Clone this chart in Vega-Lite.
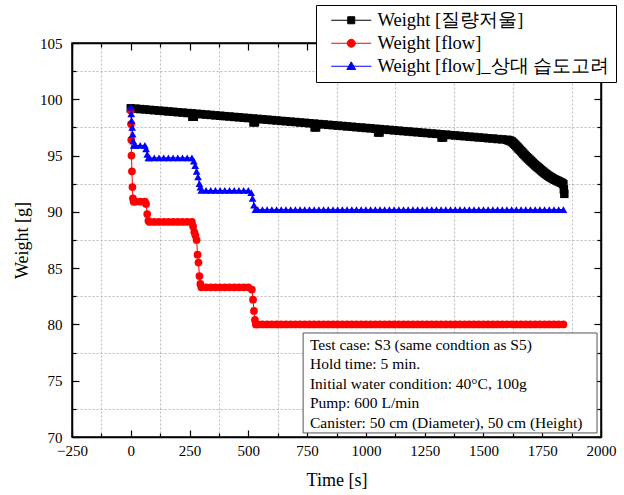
{
"$schema":"https://vega.github.io/schema/vega-lite/v6.json",
"width":529,"height":394,
"autosize":{"type":"none"},
"padding":{"left":72,"top":43,"right":23,"bottom":58},
"background":"white",
"config":{
 "font":"Liberation Serif",
 "view":{"stroke":"black","strokeWidth":1.5},
 "axis":{"domainColor":"black","domainWidth":1.5,"tickColor":"black","tickWidth":1.2,"labelFont":"Liberation Serif","labelFontSize":15,"labelColor":"black","titleFont":"Liberation Serif","titleFontSize":18,"titleFontWeight":"normal","titleColor":"black","labelOverlap":false,"labelFlush":false}
},
"datasets":{
"note":[{"txt":"Test case: S3 (same condtion as S5)\nHold time: 5 min.\nInitial water condition: 40°C, 100g\nPump: 600 L/min\nCanister: 50 cm (Diameter), 50 cm (Height)"}],
"main":[
{"s":"k","t":0,"w":99.2},{"s":"k","t":20,"w":99.17},{"s":"k","t":40,"w":99.13},{"s":"k","t":60,"w":99.1},{"s":"k","t":80,"w":99.06},{"s":"k","t":100,"w":99.03},{"s":"k","t":120,"w":98.99},{"s":"k","t":140,"w":98.96},{"s":"k","t":160,"w":98.92},{"s":"k","t":180,"w":98.89},{"s":"k","t":200,"w":98.85},{"s":"k","t":220,"w":98.82},{"s":"k","t":240,"w":98.78},{"s":"k","t":260,"w":98.75},{"s":"k","t":262,"w":98.45},{"s":"k","t":268,"w":98.45},{"s":"k","t":280,"w":98.71},{"s":"k","t":300,"w":98.68},{"s":"k","t":320,"w":98.64},{"s":"k","t":340,"w":98.61},{"s":"k","t":360,"w":98.57},{"s":"k","t":380,"w":98.54},{"s":"k","t":400,"w":98.5},{"s":"k","t":420,"w":98.47},{"s":"k","t":440,"w":98.43},{"s":"k","t":460,"w":98.4},{"s":"k","t":480,"w":98.36},{"s":"k","t":500,"w":98.33},{"s":"k","t":520,"w":98.29},{"s":"k","t":522,"w":97.95},{"s":"k","t":528,"w":97.95},{"s":"k","t":540,"w":98.26},{"s":"k","t":560,"w":98.22},{"s":"k","t":580,"w":98.19},{"s":"k","t":600,"w":98.15},{"s":"k","t":620,"w":98.12},{"s":"k","t":640,"w":98.08},{"s":"k","t":660,"w":98.05},{"s":"k","t":680,"w":98.01},{"s":"k","t":700,"w":97.98},{"s":"k","t":720,"w":97.94},{"s":"k","t":740,"w":97.91},{"s":"k","t":760,"w":97.87},{"s":"k","t":780,"w":97.84},{"s":"k","t":782,"w":97.5},{"s":"k","t":788,"w":97.5},{"s":"k","t":800,"w":97.8},{"s":"k","t":820,"w":97.77},{"s":"k","t":840,"w":97.73},{"s":"k","t":860,"w":97.7},{"s":"k","t":880,"w":97.66},{"s":"k","t":900,"w":97.63},{"s":"k","t":920,"w":97.59},{"s":"k","t":940,"w":97.56},{"s":"k","t":960,"w":97.52},{"s":"k","t":980,"w":97.49},{"s":"k","t":1000,"w":97.45},{"s":"k","t":1020,"w":97.42},{"s":"k","t":1040,"w":97.38},{"s":"k","t":1052,"w":97.05},{"s":"k","t":1058,"w":97.05},{"s":"k","t":1060,"w":97.35},{"s":"k","t":1080,"w":97.31},{"s":"k","t":1100,"w":97.28},{"s":"k","t":1120,"w":97.24},{"s":"k","t":1140,"w":97.21},{"s":"k","t":1160,"w":97.17},{"s":"k","t":1180,"w":97.14},{"s":"k","t":1200,"w":97.1},{"s":"k","t":1220,"w":97.07},{"s":"k","t":1240,"w":97.03},{"s":"k","t":1260,"w":97.0},{"s":"k","t":1280,"w":96.96},{"s":"k","t":1300,"w":96.93},{"s":"k","t":1320,"w":96.89},{"s":"k","t":1322,"w":96.6},{"s":"k","t":1328,"w":96.6},{"s":"k","t":1340,"w":96.86},{"s":"k","t":1360,"w":96.82},{"s":"k","t":1380,"w":96.79},{"s":"k","t":1400,"w":96.75},{"s":"k","t":1420,"w":96.72},{"s":"k","t":1440,"w":96.68},{"s":"k","t":1460,"w":96.65},{"s":"k","t":1480,"w":96.61},{"s":"k","t":1500,"w":96.58},{"s":"k","t":1520,"w":96.54},{"s":"k","t":1540,"w":96.51},{"s":"k","t":1560,"w":96.47},{"s":"k","t":1580,"w":96.44},
{"s":"k","t":1600,"w":96.4},{"s":"k","t":1605,"w":96.37},{"s":"k","t":1610,"w":96.34},{"s":"k","t":1615,"w":96.3},{"s":"k","t":1620,"w":96.25},{"s":"k","t":1625,"w":96.16},{"s":"k","t":1630,"w":96.06},{"s":"k","t":1635,"w":95.96},{"s":"k","t":1640,"w":95.85},{"s":"k","t":1645,"w":95.74},{"s":"k","t":1650,"w":95.62},{"s":"k","t":1655,"w":95.51},{"s":"k","t":1660,"w":95.4},{"s":"k","t":1665,"w":95.29},{"s":"k","t":1670,"w":95.17},{"s":"k","t":1675,"w":95.06},{"s":"k","t":1680,"w":94.95},{"s":"k","t":1685,"w":94.85},{"s":"k","t":1690,"w":94.75},{"s":"k","t":1695,"w":94.65},{"s":"k","t":1700,"w":94.55},{"s":"k","t":1705,"w":94.45},{"s":"k","t":1710,"w":94.35},{"s":"k","t":1715,"w":94.25},{"s":"k","t":1720,"w":94.15},{"s":"k","t":1725,"w":94.06},{"s":"k","t":1730,"w":93.98},{"s":"k","t":1735,"w":93.89},{"s":"k","t":1740,"w":93.8},{"s":"k","t":1745,"w":93.71},{"s":"k","t":1750,"w":93.62},{"s":"k","t":1755,"w":93.54},{"s":"k","t":1760,"w":93.45},{"s":"k","t":1765,"w":93.37},{"s":"k","t":1770,"w":93.3},{"s":"k","t":1775,"w":93.22},{"s":"k","t":1780,"w":93.15},{"s":"k","t":1785,"w":93.09},{"s":"k","t":1790,"w":93.02},{"s":"k","t":1795,"w":92.96},{"s":"k","t":1800,"w":92.9},{"s":"k","t":1805,"w":92.85},{"s":"k","t":1810,"w":92.8},{"s":"k","t":1815,"w":92.75},{"s":"k","t":1820,"w":92.7},{"s":"k","t":1825,"w":92.65},{"s":"k","t":1830,"w":92.6},{"s":"k","t":1835,"w":92.55},{"s":"k","t":1840,"w":92.45},{"s":"k","t":1842,"w":92.0},{"s":"k","t":1844,"w":91.6},
{"s":"r","t":0,"w":99.0},{"s":"r","t":1,"w":97.8},{"s":"r","t":2,"w":96.4},{"s":"r","t":3,"w":95.0},{"s":"r","t":5,"w":93.6},{"s":"r","t":7,"w":92.2},{"s":"r","t":9,"w":91.2},{"s":"r","t":12,"w":90.9},{"s":"r","t":20,"w":90.9},{"s":"r","t":40,"w":90.9},{"s":"r","t":60,"w":90.9},{"s":"r","t":65,"w":90.7},{"s":"r","t":70,"w":89.8},{"s":"r","t":75,"w":89.2},{"s":"r","t":80,"w":89.1},{"s":"r","t":100,"w":89.1},{"s":"r","t":120,"w":89.1},{"s":"r","t":140,"w":89.1},{"s":"r","t":160,"w":89.1},{"s":"r","t":180,"w":89.1},{"s":"r","t":200,"w":89.1},{"s":"r","t":220,"w":89.1},{"s":"r","t":240,"w":89.1},{"s":"r","t":260,"w":89.1},{"s":"r","t":265,"w":88.7},{"s":"r","t":270,"w":88.2},{"s":"r","t":275,"w":87.9},{"s":"r","t":280,"w":87.5},{"s":"r","t":284,"w":86.2},{"s":"r","t":288,"w":85.5},{"s":"r","t":292,"w":84.3},{"s":"r","t":296,"w":83.6},{"s":"r","t":300,"w":83.3},{"s":"r","t":320,"w":83.3},{"s":"r","t":340,"w":83.3},{"s":"r","t":360,"w":83.3},{"s":"r","t":380,"w":83.3},{"s":"r","t":400,"w":83.3},{"s":"r","t":420,"w":83.3},{"s":"r","t":440,"w":83.3},{"s":"r","t":460,"w":83.3},{"s":"r","t":480,"w":83.3},{"s":"r","t":500,"w":83.3},{"s":"r","t":515,"w":83.1},{"s":"r","t":520,"w":82.2},{"s":"r","t":524,"w":81.2},{"s":"r","t":528,"w":80.4},{"s":"r","t":532,"w":80.0},
{"s":"r","t":540,"w":80},{"s":"r","t":560,"w":80},{"s":"r","t":580,"w":80},{"s":"r","t":600,"w":80},{"s":"r","t":620,"w":80},{"s":"r","t":640,"w":80},{"s":"r","t":660,"w":80},{"s":"r","t":680,"w":80},{"s":"r","t":700,"w":80},{"s":"r","t":720,"w":80},{"s":"r","t":740,"w":80},{"s":"r","t":760,"w":80},{"s":"r","t":780,"w":80},{"s":"r","t":800,"w":80},{"s":"r","t":820,"w":80},{"s":"r","t":840,"w":80},{"s":"r","t":860,"w":80},{"s":"r","t":880,"w":80},{"s":"r","t":900,"w":80},{"s":"r","t":920,"w":80},{"s":"r","t":940,"w":80},{"s":"r","t":960,"w":80},{"s":"r","t":980,"w":80},{"s":"r","t":1000,"w":80},{"s":"r","t":1020,"w":80},{"s":"r","t":1040,"w":80},{"s":"r","t":1060,"w":80},{"s":"r","t":1080,"w":80},{"s":"r","t":1100,"w":80},{"s":"r","t":1120,"w":80},{"s":"r","t":1140,"w":80},{"s":"r","t":1160,"w":80},{"s":"r","t":1180,"w":80},{"s":"r","t":1200,"w":80},{"s":"r","t":1220,"w":80},{"s":"r","t":1240,"w":80},{"s":"r","t":1260,"w":80},{"s":"r","t":1280,"w":80},{"s":"r","t":1300,"w":80},{"s":"r","t":1320,"w":80},{"s":"r","t":1340,"w":80},{"s":"r","t":1360,"w":80},{"s":"r","t":1380,"w":80},{"s":"r","t":1400,"w":80},{"s":"r","t":1420,"w":80},{"s":"r","t":1440,"w":80},{"s":"r","t":1460,"w":80},{"s":"r","t":1480,"w":80},{"s":"r","t":1500,"w":80},{"s":"r","t":1520,"w":80},{"s":"r","t":1540,"w":80},{"s":"r","t":1560,"w":80},{"s":"r","t":1580,"w":80},{"s":"r","t":1600,"w":80},{"s":"r","t":1620,"w":80},{"s":"r","t":1640,"w":80},{"s":"r","t":1660,"w":80},{"s":"r","t":1680,"w":80},{"s":"r","t":1700,"w":80},{"s":"r","t":1720,"w":80},{"s":"r","t":1740,"w":80},{"s":"r","t":1760,"w":80},{"s":"r","t":1780,"w":80},{"s":"r","t":1800,"w":80},{"s":"r","t":1820,"w":80},{"s":"r","t":1840,"w":80},
{"s":"b","t":0,"w":99.3},{"s":"b","t":2,"w":98.7},{"s":"b","t":4,"w":98.1},{"s":"b","t":6,"w":97.5},{"s":"b","t":8,"w":96.9},{"s":"b","t":10,"w":96.3},{"s":"b","t":13,"w":95.9},{"s":"b","t":20,"w":95.9},{"s":"b","t":40,"w":95.9},{"s":"b","t":60,"w":95.9},{"s":"b","t":65,"w":95.6},{"s":"b","t":70,"w":95.1},{"s":"b","t":75,"w":94.8},{"s":"b","t":80,"w":94.8},{"s":"b","t":100,"w":94.8},{"s":"b","t":120,"w":94.8},{"s":"b","t":140,"w":94.8},{"s":"b","t":160,"w":94.8},{"s":"b","t":180,"w":94.8},{"s":"b","t":200,"w":94.8},{"s":"b","t":220,"w":94.8},{"s":"b","t":240,"w":94.8},{"s":"b","t":260,"w":94.8},{"s":"b","t":268,"w":94.5},{"s":"b","t":274,"w":94.1},{"s":"b","t":280,"w":93.6},{"s":"b","t":286,"w":93.1},{"s":"b","t":292,"w":92.5},{"s":"b","t":296,"w":92.2},{"s":"b","t":300,"w":91.9},{"s":"b","t":320,"w":91.9},{"s":"b","t":340,"w":91.9},{"s":"b","t":360,"w":91.9},{"s":"b","t":380,"w":91.9},{"s":"b","t":400,"w":91.9},{"s":"b","t":420,"w":91.9},{"s":"b","t":440,"w":91.9},{"s":"b","t":460,"w":91.9},{"s":"b","t":480,"w":91.9},{"s":"b","t":500,"w":91.9},{"s":"b","t":512,"w":91.7},{"s":"b","t":518,"w":91.2},{"s":"b","t":524,"w":90.6},{"s":"b","t":530,"w":90.2},
{"s":"b","t":540,"w":90.2},{"s":"b","t":560,"w":90.2},{"s":"b","t":580,"w":90.2},{"s":"b","t":600,"w":90.2},{"s":"b","t":620,"w":90.2},{"s":"b","t":640,"w":90.2},{"s":"b","t":660,"w":90.2},{"s":"b","t":680,"w":90.2},{"s":"b","t":700,"w":90.2},{"s":"b","t":720,"w":90.2},{"s":"b","t":740,"w":90.2},{"s":"b","t":760,"w":90.2},{"s":"b","t":780,"w":90.2},{"s":"b","t":800,"w":90.2},{"s":"b","t":820,"w":90.2},{"s":"b","t":840,"w":90.2},{"s":"b","t":860,"w":90.2},{"s":"b","t":880,"w":90.2},{"s":"b","t":900,"w":90.2},{"s":"b","t":920,"w":90.2},{"s":"b","t":940,"w":90.2},{"s":"b","t":960,"w":90.2},{"s":"b","t":980,"w":90.2},{"s":"b","t":1000,"w":90.2},{"s":"b","t":1020,"w":90.2},{"s":"b","t":1040,"w":90.2},{"s":"b","t":1060,"w":90.2},{"s":"b","t":1080,"w":90.2},{"s":"b","t":1100,"w":90.2},{"s":"b","t":1120,"w":90.2},{"s":"b","t":1140,"w":90.2},{"s":"b","t":1160,"w":90.2},{"s":"b","t":1180,"w":90.2},{"s":"b","t":1200,"w":90.2},{"s":"b","t":1220,"w":90.2},{"s":"b","t":1240,"w":90.2},{"s":"b","t":1260,"w":90.2},{"s":"b","t":1280,"w":90.2},{"s":"b","t":1300,"w":90.2},{"s":"b","t":1320,"w":90.2},{"s":"b","t":1340,"w":90.2},{"s":"b","t":1360,"w":90.2},{"s":"b","t":1380,"w":90.2},{"s":"b","t":1400,"w":90.2},{"s":"b","t":1420,"w":90.2},{"s":"b","t":1440,"w":90.2},{"s":"b","t":1460,"w":90.2},{"s":"b","t":1480,"w":90.2},{"s":"b","t":1500,"w":90.2},{"s":"b","t":1520,"w":90.2},{"s":"b","t":1540,"w":90.2},{"s":"b","t":1560,"w":90.2},{"s":"b","t":1580,"w":90.2},{"s":"b","t":1600,"w":90.2},{"s":"b","t":1620,"w":90.2},{"s":"b","t":1640,"w":90.2},{"s":"b","t":1660,"w":90.2},{"s":"b","t":1680,"w":90.2},{"s":"b","t":1700,"w":90.2},{"s":"b","t":1720,"w":90.2},{"s":"b","t":1740,"w":90.2},{"s":"b","t":1760,"w":90.2},{"s":"b","t":1780,"w":90.2},{"s":"b","t":1800,"w":90.2},{"s":"b","t":1820,"w":90.2},{"s":"b","t":1840,"w":90.2}
]},
"resolve":{"axis":{"x":"independent","y":"independent"}},
"layer":[
{"data":{"name":"note"},
 "mark":{"type":"rect","fill":"white","stroke":"#555555","strokeWidth":1},
 "encoding":{
  "x":{"datum":733,"type":"quantitative","scale":{"domain":[-250,2000],"nice":false,"zero":false},"axis":null},
  "x2":{"datum":1983},
  "y":{"datum":79.24,"type":"quantitative","scale":{"domain":[70,105],"nice":false,"zero":false},"axis":null},
  "y2":{"datum":70.36}}},
{"data":{"name":"note"},
 "mark":{"type":"text","align":"left","baseline":"top","lineBreak":"\n","lineHeight":19.5,"fontSize":15.5,"font":"Liberation Serif","color":"black"},
 "encoding":{
  "x":{"datum":762,"type":"quantitative","axis":null},
  "y":{"datum":78.8,"type":"quantitative","axis":null},
  "text":{"field":"txt"}}},
{"data":{"name":"main"},"transform":[{"filter":"datum.s === 'k'"}],
 "mark":{"type":"line","strokeWidth":1,"color":"#000000"},
 "encoding":{
  "x":{"field":"t","type":"quantitative","scale":{"domain":[-250,2000],"nice":false,"zero":false},
   "axis":{"orient":"bottom","title":"Time [s]","titlePadding":10,"values":[-250,-125,0,125,250,375,500,625,750,875,1000,1125,1250,1375,1500,1625,1750,1875,2000],"format":"d","labelExpr":"datum.value % 250 === 0 ? datum.label : ''","tickSize":{"condition":{"test":"datum.value % 250 === 0","value":-7},"value":-4},"labelPadding":13,"grid":true,"gridDash":[2,2],"gridColor":"#aaaaaa","gridWidth":0.8,"gridOpacity":{"condition":{"test":"datum.value % 250 === 0","value":0},"value":1}}},
  "y":{"field":"w","type":"quantitative","scale":{"domain":[70,105],"nice":false,"zero":false},
   "axis":{"orient":"left","title":"Weight [g]","titlePadding":8,"values":[70,72.5,75,77.5,80,82.5,85,87.5,90,92.5,95,97.5,100,102.5,105],"labelExpr":"datum.value % 5 === 0 ? datum.label : ''","tickSize":{"condition":{"test":"datum.value % 5 === 0","value":-7},"value":-4},"labelPadding":17,"grid":true,"gridDash":[2,2],"gridColor":"#aaaaaa","gridWidth":0.8,"gridOpacity":{"condition":{"test":"datum.value % 5 === 0","value":0},"value":1}}}}},
{"data":{"name":"main"},"transform":[{"filter":"datum.s === 'r'"}],
 "mark":{"type":"line","strokeWidth":1,"color":"#ff0000"},
 "encoding":{
  "x":{"field":"t","type":"quantitative","axis":null},
  "y":{"field":"w","type":"quantitative","axis":null}}},
{"data":{"name":"main"},"transform":[{"filter":"datum.s === 'b'"}],
 "mark":{"type":"line","strokeWidth":1,"color":"#0000ff"},
 "encoding":{
  "x":{"field":"t","type":"quantitative","axis":null},
  "y":{"field":"w","type":"quantitative","axis":null}}},
{"data":{"name":"main"},"transform":[{"filter":"datum.s === 'k'"}],
 "mark":{"type":"point","shape":"square","filled":true,"opacity":1,"size":72},
 "encoding":{
  "x":{"field":"t","type":"quantitative",
   "axis":{"orient":"top","title":null,"labels":false,"grid":false,"values":[-250,-125,0,125,250,375,500,625,750,875,1000,1125,1250,1375,1500,1625,1750,1875,2000],"tickSize":{"condition":{"test":"datum.value % 250 === 0","value":-7},"value":-4}}},
  "y":{"field":"w","type":"quantitative",
   "axis":{"orient":"right","title":null,"labels":false,"grid":false,"values":[70,72.5,75,77.5,80,82.5,85,87.5,90,92.5,95,97.5,100,102.5,105],"tickSize":{"condition":{"test":"datum.value % 5 === 0","value":-7},"value":-4}}},
  "color":{"field":"s","type":"nominal","scale":{"domain":["k","r","b"],"range":["#000000","#ff0000","#0000ff"]},
   "legend":{"title":null,"orient":"none","legendX":244,"legendY":-38,"strokeColor":"black","fillColor":"white","padding":6,"symbolSize":256,"symbolOffset":20,"labelOffset":17,"labelFont":"Liberation Serif","labelFontSize":18.5,"labelColor":"black","rowPadding":4,"labelLimit":400,"symbolStrokeWidth":1,"symbolOpacity":1,
    "labelExpr":"datum.label === 'k' ? 'Weight [질량저울]' : datum.label === 'r' ? 'Weight [flow]' : 'Weight [flow]_상대 습도고려'",
    "encode":{
     "labels":{"update":{"font":{"value":"Liberation Serif"},"fontSize":{"value":18.5}}},
     "symbols":{"update":{
     "shape":{"signal":"datum.value === 'k' ? 'M-2.5,0H2.5M-0.44,-0.44H0.44V0.44H-0.44Z' : datum.value === 'r' ? 'M-2.5,0H2.5M-0.5,0A0.5,0.5,0,1,1,0.5,0A0.5,0.5,0,1,1,-0.5,0Z' : 'M-2.5,0H2.5M0,-0.55L0.55,0.4H-0.55Z'"},
     "stroke":{"scale":"color","field":"value"},
     "strokeWidth":{"value":1}}}}}}}},
{"data":{"name":"main"},"transform":[{"filter":"datum.s === 'r'"}],
 "mark":{"type":"point","shape":"circle","filled":true,"opacity":1,"size":60,"color":"#ff0000"},
 "encoding":{
  "x":{"field":"t","type":"quantitative","axis":null},
  "y":{"field":"w","type":"quantitative","axis":null}}},
{"data":{"name":"main"},"transform":[{"filter":"datum.s === 'b'"}],
 "mark":{"type":"point","shape":"triangle-up","filled":true,"opacity":1,"size":60,"color":"#0000ff"},
 "encoding":{
  "x":{"field":"t","type":"quantitative","axis":null},
  "y":{"field":"w","type":"quantitative","axis":null}}}
]
}
